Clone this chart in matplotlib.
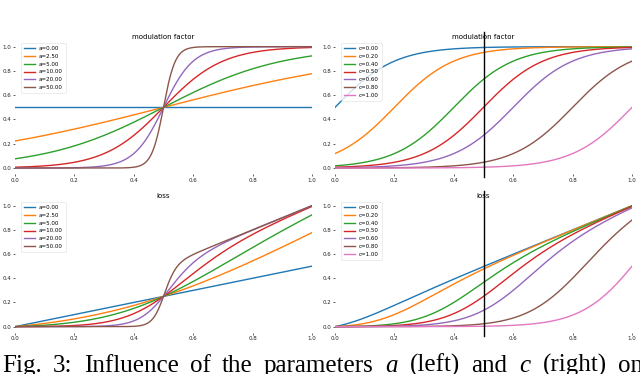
import numpy as np
import matplotlib
matplotlib.use("Agg")
import matplotlib.pyplot as plt

# parameters
a_values = [0.0, 2.5, 5.0, 10.0, 20.0, 50.0]   # left column, c fixed
c_fixed = 0.5
c_values = [0.0, 0.2, 0.4, 0.5, 0.6, 0.8, 1.0]  # right column, a fixed
a_fixed = 10.0
x_ticks = [0.0, 0.2, 0.4, 0.6, 0.8, 1.0]
y_ticks = [0.0, 0.2, 0.4, 0.6, 0.8, 1.0]
titles = ["modulation factor", "loss"]
vline_x = 0.5
caption_words = ["Fig.", "3:", "Influence", "of", "the", "parameters", "$a$",
                 "(left)", "and", "$c$", "(right)", "on"]

x = np.linspace(0, 1, 400)

def modulation(x, a, c):
    return 1.0 / (1.0 + np.exp(-a * (x - c)))

plt.rcParams['mathtext.fontset'] = 'custom'
plt.rcParams['mathtext.it'] = 'Liberation Serif:italic'
plt.rcParams['mathtext.rm'] = 'Liberation Serif'

fig = plt.figure(figsize=(6.4, 3.74), dpi=100)
W, H = 640.0, 374.0

def make_ax(left_px, right_px, top_px, bottom_px):
    return fig.add_axes([left_px / W, 1 - bottom_px / H,
                         (right_px - left_px) / W, (bottom_px - top_px) / H])

rows = [(40.6, 174.1), (199.6, 332.7)]
cols = [(15, 312), (335, 632)]
colors = plt.rcParams['axes.prop_cycle'].by_key()['color']

for r, (top, bot) in enumerate(rows):
    for col, (l, rgt) in enumerate(cols):
        ax = make_ax(l, rgt, top, bot)
        if col == 0:
            for i, a in enumerate(a_values):
                m = modulation(x, a, c_fixed)
                y = m if r == 0 else x * m
                ax.plot(x, y, color=colors[i % 10], lw=1.0, label=f"a={a:.2f}")
        else:
            for i, c in enumerate(c_values):
                m = modulation(x, a_fixed, c)
                y = m if r == 0 else x * m
                ax.plot(x, y, color=colors[i % 10], lw=1.0, label=f"c={c:.2f}")
            ax.plot([vline_x, vline_x], [-0.075, 1.12], color='black', lw=1.0,
                    clip_on=False, zorder=5)
        ax.set_xlim(0, 1)
        ax.set_ylim(-0.05, 1.05)
        ax.set_xticks(x_ticks)
        ax.set_yticks(y_ticks)
        ax.set_xticklabels([f"{t:.1f}" for t in x_ticks])
        ax.set_yticklabels([f"{t:.1f}" for t in y_ticks])
        for s in ax.spines.values():
            s.set_visible(False)
        ax.tick_params(axis='both', labelsize=4, length=1.5, width=0.5, pad=1,
                       colors='#222222')
        ax.set_title(titles[r], fontsize=5, pad=1.5)
        leg = ax.legend(loc='upper left', fontsize=4, frameon=True,
                        borderpad=0.5, labelspacing=0.5, handlelength=2.0,
                        bbox_to_anchor=(0.01, 1.0))
        leg.get_frame().set_edgecolor('#dddddd')
        leg.get_frame().set_linewidth(0.5)

# justified caption line (words spread over the full width)
fig.canvas.draw()
renderer = fig.canvas.get_renderer()
texts = []
widths = []
for w in caption_words:
    t = fig.text(0, 1 - 372.0 / H, w, fontsize=18, family='Liberation Serif',
                 ha='left', va='baseline')
    texts.append(t)
    widths.append(t.get_window_extent(renderer).width)
start_px, end_px = 2.0, 643.0
gap = (end_px - start_px - sum(widths)) / (len(caption_words) - 1)
pos = start_px
for t, wd in zip(texts, widths):
    t.set_x(pos / W)
    pos += wd + gap

fig.savefig("out.png", dpi=100)
